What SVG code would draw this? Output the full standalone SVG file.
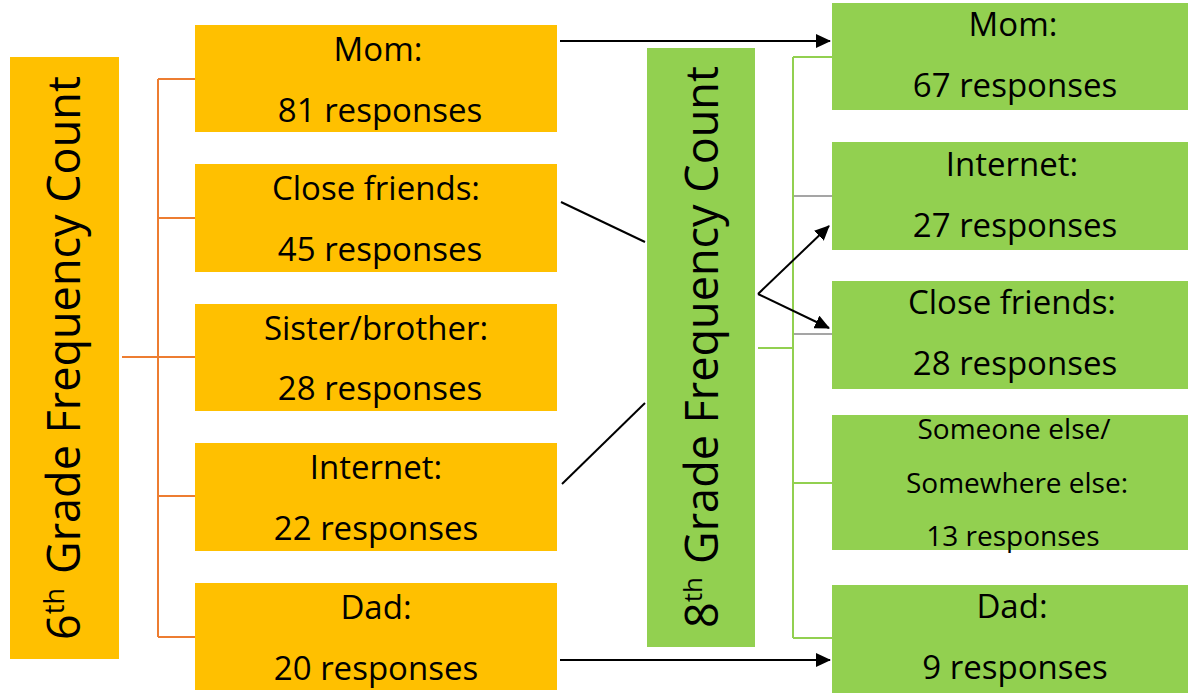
<svg xmlns="http://www.w3.org/2000/svg" width="1188" height="693" viewBox="0 0 1188 693">
<style>
.org{fill:#FFC000}
.grn{fill:#92D050}
.t{font-family:"Open Sans","Liberation Sans",sans-serif;font-size:33px;fill:#000;text-anchor:middle}
.ts{font-family:"Open Sans","Liberation Sans",sans-serif;font-size:28px;fill:#000;text-anchor:middle}
.tv{font-family:"Open Sans","Liberation Sans",sans-serif;font-size:45px;fill:#000;text-anchor:middle}
.ob{stroke:#ED7D31;stroke-width:2;fill:none}
.gb{stroke:#92D050;stroke-width:2;fill:none}
.gy{stroke:#A5A5A5;stroke-width:2;fill:none}
.k{stroke:#000;stroke-width:2;fill:none}
</style>
<defs>
<marker id="ah" markerWidth="15" markerHeight="14" refX="14" refY="7" orient="auto" markerUnits="userSpaceOnUse">
<path d="M0,0 L15,7 L0,14 Z" fill="#000"/>
</marker>
</defs>
<rect width="1188" height="693" fill="#fff"/>
<g id="connectors">
<path class="ob" d="M158,79 V637 M158,79 H195 M158,218 H195 M158,357 H195 M158,496 H195 M158,637 H195"/>
<path class="ob" d="M122,357 H158" stroke-width="3"/>
<path class="gb" d="M793,57 V638 M793,57 H832 M793,483 H832 M793,638 H832 M758,348 H793"/>
<path class="gy" d="M794,196 H832 M794,334 H832"/>
<line class="k" x1="560" y1="41" x2="830" y2="41" marker-end="url(#ah)"/>
<line class="k" x1="560" y1="660" x2="830" y2="660" marker-end="url(#ah)"/>
<line class="k" x1="561" y1="202" x2="645" y2="242"/>
<line class="k" x1="562" y1="484" x2="645" y2="403"/>
<line class="k" x1="758" y1="294" x2="829" y2="226" marker-end="url(#ah)"/>
<line class="k" x1="758" y1="294" x2="829" y2="328" marker-end="url(#ah)"/>
</g>
<g id="grade6">
<rect class="org" x="10" y="57" width="109" height="602"/>
<text class="tv" transform="translate(80,358) rotate(-90)">6<tspan font-size="27" dy="-16">th</tspan><tspan dy="16" dx="14">Grade Frequency Count</tspan></text>
</g>
<g id="o-mom"><rect class="org" x="195" y="25" width="362" height="107"/><text class="t" x="378" y="61">Mom:</text><text class="t" x="380" y="122">81 responses</text></g>
<g id="o-friends"><rect class="org" x="195" y="164" width="362" height="108"/><text class="t" x="376" y="200">Close friends:</text><text class="t" x="380" y="261">45 responses</text></g>
<g id="o-sibling"><rect class="org" x="195" y="304" width="362" height="107"/><text class="t" x="376" y="340">Sister/brother:</text><text class="t" x="380" y="400">28 responses</text></g>
<g id="o-internet"><rect class="org" x="195" y="443" width="362" height="108"/><text class="t" x="376" y="479">Internet:</text><text class="t" x="376" y="540">22 responses</text></g>
<g id="o-dad"><rect class="org" x="195" y="583" width="362" height="107"/><text class="t" x="376" y="619">Dad:</text><text class="t" x="376" y="680">20 responses</text></g>
<g id="grade8">
<rect class="grn" x="647" y="48" width="108" height="599"/>
<text class="tv" transform="translate(718,347) rotate(-90)" font-size="44">8<tspan font-size="26" dy="-16">th</tspan><tspan dy="16" dx="13">Grade Frequency Count</tspan></text>
</g>
<g id="g-mom"><rect class="grn" x="832" y="3" width="356" height="107"/><text class="t" x="1013" y="36">Mom:</text><text class="t" x="1015" y="97">67 responses</text></g>
<g id="g-internet"><rect class="grn" x="832" y="142" width="356" height="108"/><text class="t" x="1012" y="176">Internet:</text><text class="t" x="1015" y="237">27 responses</text></g>
<g id="g-friends"><rect class="grn" x="832" y="281" width="356" height="108"/><text class="t" x="1012" y="314">Close friends:</text><text class="t" x="1015" y="375">28 responses</text></g>
<g id="g-else"><rect class="grn" x="832" y="415" width="356" height="135"/><text class="ts" x="1014" y="439">Someone else/</text><text class="ts" x="1017" y="493">Somewhere else:</text><text class="ts" x="1013" y="546">13 responses</text></g>
<g id="g-dad"><rect class="grn" x="832" y="585" width="356" height="108"/><text class="t" x="1012" y="618">Dad:</text><text class="t" x="1015" y="679">9 responses</text></g>
</svg>
